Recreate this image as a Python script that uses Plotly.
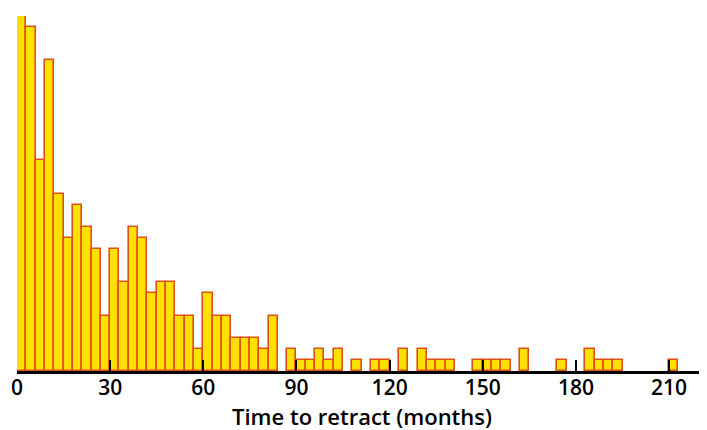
import plotly.graph_objects as go

# Histogram of time to retraction, 3-month bins
bin_width = 3
bin_starts = list(range(0, 213, 3))
counts = [
    32, 31, 19, 28, 16, 12, 15, 13, 11, 5,   # 0-30
    11, 8, 13, 12, 7, 8, 8, 5, 5, 2,         # 30-60
    7, 5, 5, 3, 3, 3, 2, 5, 0, 2,            # 60-90
    1, 1, 2, 1, 2, 0, 1, 0, 1, 1,            # 90-120
    0, 2, 0, 2, 1, 1, 1, 0, 0, 1,            # 120-150
    1, 1, 1, 0, 2, 0, 0, 0, 1, 0,            # 150-180
    0, 2, 1, 1, 1, 0, 0, 0, 0, 0,            # 180-210
    1,                                       # 210-213
]
tick_vals = [0, 30, 60, 90, 120, 150, 180, 210]
x_title = "Time to retract (months)"

centers = [s + bin_width / 2 for s in bin_starts]
# empty bins draw nothing
bar_heights = [c if c > 0 else None for c in counts]

fig = go.Figure(
    go.Bar(
        x=centers,
        y=bar_heights,
        width=bin_width,
        marker=dict(color="#FFE000", line=dict(color="#E0501A", width=1.6)),
        cliponaxis=False,
    )
)

# page body adds an 8px offset; margins compensate for it
fig.update_layout(
    width=707,
    height=430,
    margin=dict(l=9, r=8, t=8, b=67, autoexpand=False),
    paper_bgcolor="white",
    plot_bgcolor="white",
    showlegend=False,
    font=dict(family="Open Sans", color="black"),
    bargap=0,
)
fig.update_xaxes(
    range=[0, 222.2],
    tickvals=tick_vals,
    ticks="inside",
    ticklen=11,
    tickwidth=2,
    tickcolor="black",
    ticklabelstandoff=-4,
    showline=True,
    linecolor="black",
    linewidth=2.5,
    showgrid=False,
    zeroline=False,
    tickfont=dict(size=21, family="Open Sans", weight=600, color="black"),
    title=dict(text=x_title, font=dict(size=22, family="Open Sans", weight=600, color="black"), standoff=8),
)
fig.update_yaxes(
    range=[0, 32],
    visible=False,
    showgrid=False,
    zeroline=False,
)

fig.write_html("out.html")
